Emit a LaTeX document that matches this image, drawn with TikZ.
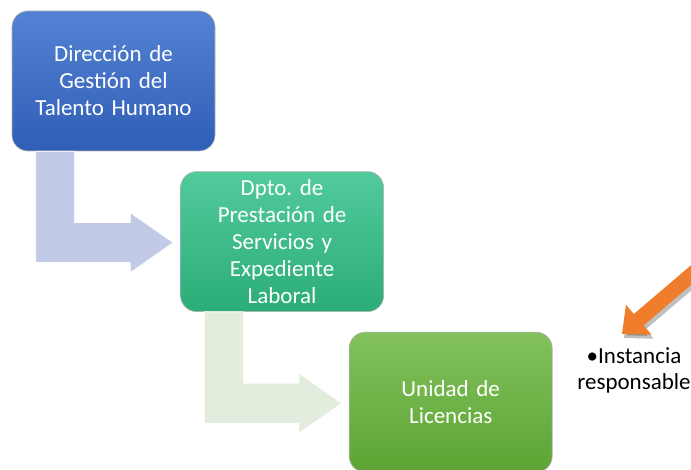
\documentclass[tikz,border=0pt]{standalone}
\usepackage{fontspec}
\setmainfont{Carlito}
\frenchspacing
\usepackage{xcolor}
\usepackage{tikz}
\usetikzlibrary{positioning,calc,arrows.meta}
\definecolor{dirTop}{HTML}{5482D3}
\definecolor{dirBot}{HTML}{2F5EB6}
\definecolor{dptTop}{HTML}{52CA9C}
\definecolor{dptBot}{HTML}{2BAD77}
\definecolor{uniTop}{HTML}{82C15C}
\definecolor{uniBot}{HTML}{5DA434}
\definecolor{elbowBlue}{HTML}{C3CAE8}
\definecolor{elbowGreen}{HTML}{E2EDDD}
\definecolor{pointerOrange}{HTML}{F07D2C}
\tikzset{
  orgBox/.style={
    rectangle,
    rounded corners=16pt,
    draw=white!70!black,
    line width=0.6pt,
    text=white,
    text width=190pt,
    inner sep=4pt,
    minimum width=203pt,
    minimum height=140pt,
    align=center,
    font=\fontsize{23}{27}\selectfont
  },
  elbowArrow/.style={
    draw=white,
    line width=0.8pt,
    line join=miter
  },
  pointerArrow/.style={
    -{Triangle[width=38pt,length=22pt]},
    line width=15pt,
    draw=pointerOrange
  },
  noteText/.style={
    align=center,
    font=\fontsize{23}{26}\selectfont
  }
}

\begin{document}
\begin{tikzpicture}[x=1pt,y=-1pt]
        \useasboundingbox (0,0) rectangle (691,470);
        \clip (0,0) rectangle (691,470);

        \node[orgBox, top color=dirTop, bottom color=dirBot] (dgth) at (113.5,81) {Dirección de\\Gestión del\\Talento Humano};
        \node[orgBox, top color=dptTop, bottom color=dptBot, below right=20pt and -35pt of dgth] (dpto) {Dpto. de\\Prestación de\\Servicios y\\Expediente\\Laboral};
        \node[orgBox, top color=uniTop, bottom color=uniBot, below right=20pt and -35pt of dpto] (unidad) {Unidad de\\Licencias};

        % elbow arrows between the levels
        \coordinate (stemA) at ($(dgth.south west)+(24,0)$);
        \coordinate (tipA) at ($(dpto.west)+(-7,1)$);
        \coordinate (stemB) at ($(dpto.south west)+(24,0)$);
        \coordinate (tipB) at ($(unidad.west)+(-7,1)$);
        \foreach \stem/\tip/\col in {stemA/tipA/elbowBlue, stemB/tipB/elbowGreen}{
          \fill[elbowArrow, fill=\col] let \p1=(\stem), \p2=(\tip) in
            (\x1,\y1) -- (\x1+39pt,\y1) -- (\x1+39pt,\y2+20pt) -- (\x2-43pt,\y2+20pt)
            -- (\x2-43pt,\y2+30pt) -- (\x2,\y2) -- (\x2-43pt,\y2-30pt)
            -- (\x2-43pt,\y2-20pt) -- (\x1,\y2-20pt) -- cycle;
        }

        \node[noteText] (nota) at (634,370) {•Instancia\\responsable};

        % orange pointer
        \coordinate (ptrTail) at (704,264);
        \coordinate (ptrTip) at (622,334);
        \draw[pointerArrow, draw=black, opacity=0.25] ($(ptrTail)+(2,4)$) -- ($(ptrTip)+(2,4)$);
        \draw[pointerArrow] (ptrTail) -- (ptrTip);
    \end{tikzpicture}
\end{document}
